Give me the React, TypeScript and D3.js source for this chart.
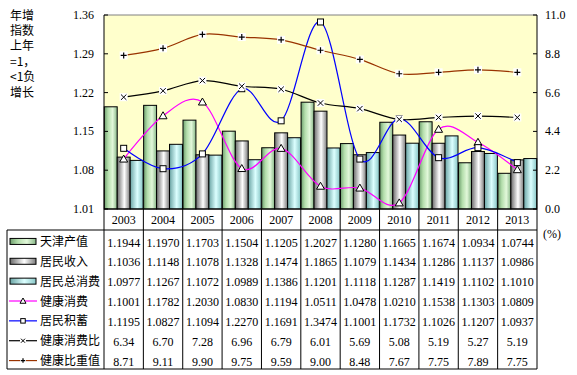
import React from "react";
import * as d3 from "d3";

const years = ["2003","2004","2005","2006","2007","2008","2009","2010","2011","2012","2013"];
const tianjinOutput = [1.1944,1.1970,1.1703,1.1504,1.1205,1.2027,1.1280,1.1665,1.1674,1.0934,1.0744];
const residentIncome = [1.1036,1.1148,1.1078,1.1328,1.1474,1.1865,1.1079,1.1434,1.1286,1.1137,1.0986];
const residentConsumption = [1.0977,1.1267,1.1072,1.0989,1.1386,1.1201,1.1118,1.1287,1.1419,1.1102,1.1010];
const healthConsumption = [1.1001,1.1782,1.2030,1.0830,1.1194,1.0511,1.0478,1.0210,1.1538,1.1303,1.0809];
const residentSavings = [1.1195,1.0827,1.1094,1.2270,1.1691,1.3474,1.1001,1.1732,1.1026,1.1207,1.0937];
const healthRatio = [6.34,6.70,7.28,6.96,6.79,6.01,5.69,5.08,5.19,5.27,5.19];
const healthWeight = [8.71,9.11,9.90,9.75,9.59,9.00,8.48,7.67,7.75,7.89,7.75];
const leftTicks = [1.01,1.08,1.15,1.22,1.29,1.36];
const rightTicks = [0,2.2,4.4,6.6,8.8,11.0];
const seriesNames = ["天津产值","居民收入","居民总消费","健康消费","居民积蓄","健康消费比","健康比重值"];
const axisNote = ["年增","指数","上年","=1，","<1负","增长"];

const L = 104, R = 537, T = 15, B = 209;
const tableTop = 230, tableBottom = 369, tableLeft = 7;
const rowH = (tableBottom - tableTop) / 7;
const serif = "'Times New Roman','Liberation Serif',serif";
const cjk = "'SimSun','Noto Sans CJK SC',sans-serif";

function Marker({ kind, x, y, s = 1 }: { kind: string; x: number; y: number; s?: number }) {
  if (kind === "tri") {
    return <path d={`M${x},${y - 4 * s}L${x + 4 * s},${y + 3 * s}L${x - 4 * s},${y + 3 * s}Z`} fill="#fff" stroke="#000" strokeWidth={1} />;
  }
  if (kind === "sq") {
    return <rect x={x - 3 * s} y={y - 3 * s} width={6 * s} height={6 * s} fill="#fff" stroke="#000" strokeWidth={1} />;
  }
  if (kind === "x") {
    return (
      <g>
        <rect x={x - 4 * s} y={y - 4 * s} width={8 * s} height={8 * s} fill="#fff" />
        <path d={`M${x - 2.7 * s},${y - 2.7 * s}L${x + 2.7 * s},${y + 2.7 * s}M${x - 2.7 * s},${y + 2.7 * s}L${x + 2.7 * s},${y - 2.7 * s}`} stroke="#000" strokeWidth={1} />
      </g>
    );
  }
  return (
    <g>
      <rect x={x - 4 * s} y={y - 4 * s} width={8 * s} height={8 * s} fill="#fff" />
      <path d={`M${x - 3 * s},${y}L${x + 3 * s},${y}M${x},${y - 3 * s}L${x},${y + 3 * s}`} stroke="#000" strokeWidth={1.2} />
    </g>
  );
}

export default function App() {
  const x = d3.scaleBand<string>().domain(years).range([L, R]).padding(0);
  const bw = x.bandwidth();
  const inner = d3.scaleBand<number>().domain([0, 1, 2]).range([0, bw]).paddingInner(0).paddingOuter(0.02);
  const yL = d3.scaleLinear().domain([1.01, 1.36]).range([B, T]);
  const yR = d3.scaleLinear().domain([0, 11]).range([B, T]);
  const cx = (i: number) => (x(years[i]) as number) + bw / 2;

  const barSeries = [tianjinOutput, residentIncome, residentConsumption];
  const grads = ["gGreen", "gGray", "gCyan"];

  const curve = d3.curveCardinal.tension(0);
  const lineL = d3.line<number>().x((_, i) => cx(i)).y((v) => yL(v)).curve(curve);
  const lineR = d3.line<number>().x((_, i) => cx(i)).y((v) => yR(v)).curve(curve);

  const lineSeries = [
    { data: healthConsumption, color: "#FF00FF", marker: "tri", gen: lineL, scale: yL },
    { data: residentSavings, color: "#0000FF", marker: "sq", gen: lineL, scale: yL },
    { data: healthRatio, color: "#000000", marker: "x", gen: lineR, scale: yR },
    { data: healthWeight, color: "#993300", marker: "plus", gen: lineR, scale: yR },
  ];

  const tableRows = [
    tianjinOutput.map((v) => v.toFixed(4)),
    residentIncome.map((v) => v.toFixed(4)),
    residentConsumption.map((v) => v.toFixed(4)),
    healthConsumption.map((v) => v.toFixed(4)),
    residentSavings.map((v) => v.toFixed(4)),
    healthRatio.map((v) => v.toFixed(2)),
    healthWeight.map((v) => v.toFixed(2)),
  ];

  const boundaries = years.map((y) => x(y) as number).concat([R]);

  return (
    <svg width={577} height={375} style={{ position: "fixed", left: 0, top: 0, background: "#fff" }}>
      <defs>
        <linearGradient id="gGreen" x1="0" x2="1" y1="0" y2="0">
          <stop offset="0" stopColor="#6f9f6f" />
          <stop offset="0.3" stopColor="#b4deac" />
          <stop offset="0.65" stopColor="#e2f8da" />
          <stop offset="1" stopColor="#86b686" />
        </linearGradient>
        <linearGradient id="gGray" x1="0" x2="1" y1="0" y2="0">
          <stop offset="0" stopColor="#6a6a6a" />
          <stop offset="0.55" stopColor="#ffffff" />
          <stop offset="1" stopColor="#7a7a7a" />
        </linearGradient>
        <linearGradient id="gCyan" x1="0" x2="1" y1="0" y2="0">
          <stop offset="0" stopColor="#6aa4a4" />
          <stop offset="0.55" stopColor="#dcffff" />
          <stop offset="1" stopColor="#88c6c6" />
        </linearGradient>
      </defs>

      {/* plot area */}
      <rect x={L} y={T} width={R - L} height={B - T} fill="#FFFFCC" />
      <line x1={L} x2={R} y1={T} y2={T} stroke="#808080" />

      {/* bars */}
      {barSeries.map((s, si) =>
        s.map((v, i) => (
          <rect
            key={`b${si}-${i}`}
            x={(x(years[i]) as number) + (inner(si) as number)}
            y={yL(v)}
            width={inner.bandwidth()}
            height={B - yL(v)}
            fill={`url(#${grads[si]})`}
            stroke="#000"
            strokeWidth={1}
          />
        ))
      )}

      {/* lines */}
      {lineSeries.map((ls, li) => (
        <path key={`l${li}`} d={ls.gen(ls.data) || ""} fill="none" stroke={ls.color} strokeWidth={1.2} />
      ))}
      {lineSeries.map((ls, li) =>
        ls.data.map((v, i) => <Marker key={`m${li}-${i}`} kind={ls.marker} x={cx(i)} y={ls.scale(v)} />)
      )}

      {/* axes */}
      <line x1={L} x2={L} y1={T} y2={B} stroke="#000" />
      <line x1={R} x2={R} y1={T} y2={B} stroke="#000" />
      <line x1={L} x2={R} y1={B} y2={B} stroke="#000" />
      {leftTicks.map((t) => (
        <g key={`lt${t}`}>
          <line x1={L} x2={L + 4} y1={yL(t)} y2={yL(t)} stroke="#000" />
          <text x={94} y={yL(t) + 4} textAnchor="end" fontFamily={serif} fontSize={12} fill="#000">
            {t.toFixed(2)}
          </text>
        </g>
      ))}
      {rightTicks.map((t) => (
        <g key={`rt${t}`}>
          <line x1={R - 4} x2={R} y1={yR(t)} y2={yR(t)} stroke="#000" />
          <text x={545} y={yR(t) + 4} fontFamily={serif} fontSize={12} fill="#000">
            {t.toFixed(1)}
          </text>
        </g>
      ))}
      <text x={543} y={238} fontFamily={serif} fontSize={12} fill="#000">(%)</text>

      {/* axis note */}
      {axisNote.map((s, i) => (
        <text key={`n${i}`} x={10} y={19.5 + i * 15.4} fontFamily={cjk} fontSize={12} fill="#000">
          {s}
        </text>
      ))}

      {/* data table */}
      {boundaries.map((b, i) => (
        <line key={`vb${i}`} x1={b} x2={b} y1={B} y2={tableBottom} stroke="#000" />
      ))}
      <line x1={tableLeft} x2={tableLeft} y1={tableTop} y2={tableBottom} stroke="#000" />
      <line x1={tableLeft} x2={R} y1={tableTop} y2={tableTop} stroke="#000" />
      <line x1={tableLeft} x2={R} y1={tableBottom} y2={tableBottom} stroke="#000" />
      {years.map((y, i) => (
        <text key={`y${y}`} x={cx(i)} y={224} textAnchor="middle" fontFamily={serif} fontSize={12} fill="#000">
          {y}
        </text>
      ))}
      {tableRows.map((row, ri) =>
        row.map((v, i) => (
          <text
            key={`t${ri}-${i}`}
            x={cx(i)}
            y={tableTop + ri * rowH + 16.5}
            textAnchor="middle"
            fontFamily={serif}
            fontSize={12}
            fill="#000"
          >
            {v}
          </text>
        ))
      )}
      {seriesNames.map((name, ri) => {
        const cy = tableTop + ri * rowH + rowH / 2 + 1.5;
        let key: React.ReactNode;
        if (ri < 3) {
          key = <rect x={10} y={cy - 3} width={26} height={6} fill={`url(#${grads[ri]})`} stroke="#000" strokeWidth={1} />;
        } else {
          const ls = lineSeries[ri - 3];
          key = (
            <g>
              <line x1={9} x2={37} y1={cy} y2={cy} stroke={ls.color} strokeWidth={1.2} />
              <Marker kind={ls.marker} x={23} y={cy} s={0.75} />
            </g>
          );
        }
        return (
          <g key={`lg${ri}`}>
            {key}
            <text x={40} y={cy + 4.5} fontFamily={cjk} fontSize={12} fill="#000">
              {name}
            </text>
          </g>
        );
      })}
    </svg>
  );
}
